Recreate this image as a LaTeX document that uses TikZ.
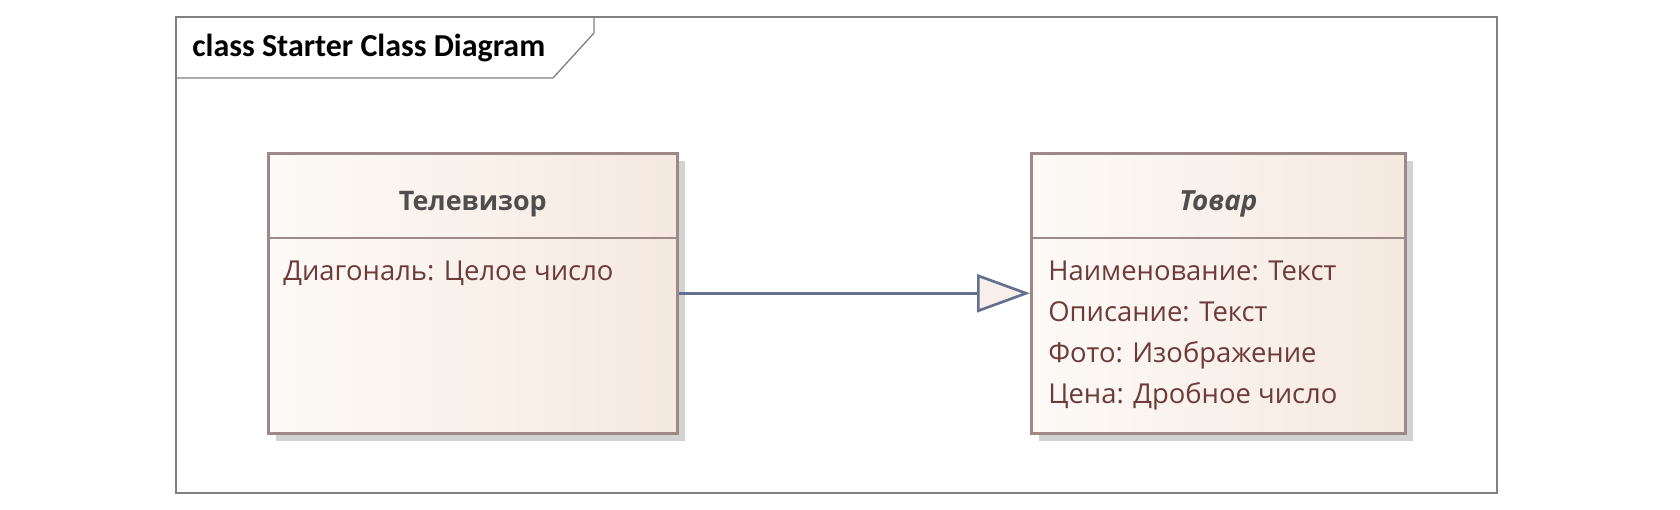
\documentclass[tikz,border=0pt]{standalone}
\usepackage{fontspec}
\setmainfont{Open Sans}
\newfontfamily\framefont{Carlito}
\usetikzlibrary{arrows.meta,shadows}

\definecolor{framegray}{RGB}{128,128,128}
\definecolor{clsborder}{RGB}{158,136,136}
\definecolor{clsleft}{RGB}{253,250,247}
\definecolor{clsright}{RGB}{245,233,223}
\definecolor{clsshadow}{RGB}{210,210,210}
\definecolor{attrtext}{RGB}{110,58,58}
\definecolor{nametext}{RGB}{78,78,78}
\definecolor{genline}{RGB}{100,112,142}
\definecolor{genfill}{RGB}{248,238,234}

\tikzset{
  cls/.style={draw=clsborder,line width=1.5pt,left color=clsleft,right color=clsright,
    drop shadow={shadow xshift=.16cm,shadow yshift=-.16cm,fill=clsshadow,opacity=1},
    inner sep=0pt,anchor=north west},
  clsname/.style={anchor=base,text=nametext,font=\fontsize{15.3}{18}\selectfont\bfseries},
  attr/.style={anchor=base west,text=attrtext,inner sep=0pt,font=\fontsize{15.6}{18}\selectfont},
  gen/.style={draw=genline,line width=1.5pt,-{Triangle[length=1.06cm,width=.76cm,fill=genfill]}}
}

\begin{document}
\begin{tikzpicture}[x=.02cm,y=-.02cm,line width=.35pt]
\useasboundingbox (0,0) rectangle (1680,510);
% frame with its tab
\draw[framegray,line width=.75pt] (176,17) rectangle (1497,493);
\draw[framegray,line width=.75pt] (176,78)--(553,78)--(594,33)--(594,17);
\node[anchor=base west,inner sep=0pt,font=\framefont\fontsize{18.2}{21}\selectfont\bfseries] (title) at (192,57) {class Starter Class Diagram};
% classes
\node[cls,minimum width=8.18cm,minimum height=5.6cm] (tv) at (267,152) {};
\node[cls,minimum width=7.48cm,minimum height=5.6cm] (tovar) at (1030,152) {};
\draw[clsborder,line width=1.5pt] (tv.west |- 0,238)--(tv.east |- 0,238);
\draw[clsborder,line width=1.5pt] (tovar.west |- 0,238)--(tovar.east |- 0,238);
\node[clsname] (tvname) at (tv.north |- 0,210) {Телевизор};
\node[clsname,font=\fontsize{15.8}{18}\selectfont\bfseries\itshape] (tovarname) at (tovar.north |- 0,210) {Товар};
\node[attr] (tvattr) at (283,280) {Диагональ: Целое число};
\foreach \t [count=\i from 0] in {Наименование: Текст,Описание: Текст,Фото: Изображение,Цена: Дробное число}
  \node[attr] (tovarattr\i) at (1048,280+41*\i) {\t};
% generalization
\draw[gen] (tv.east)--(tovar.west);
\end{tikzpicture}
\end{document}
